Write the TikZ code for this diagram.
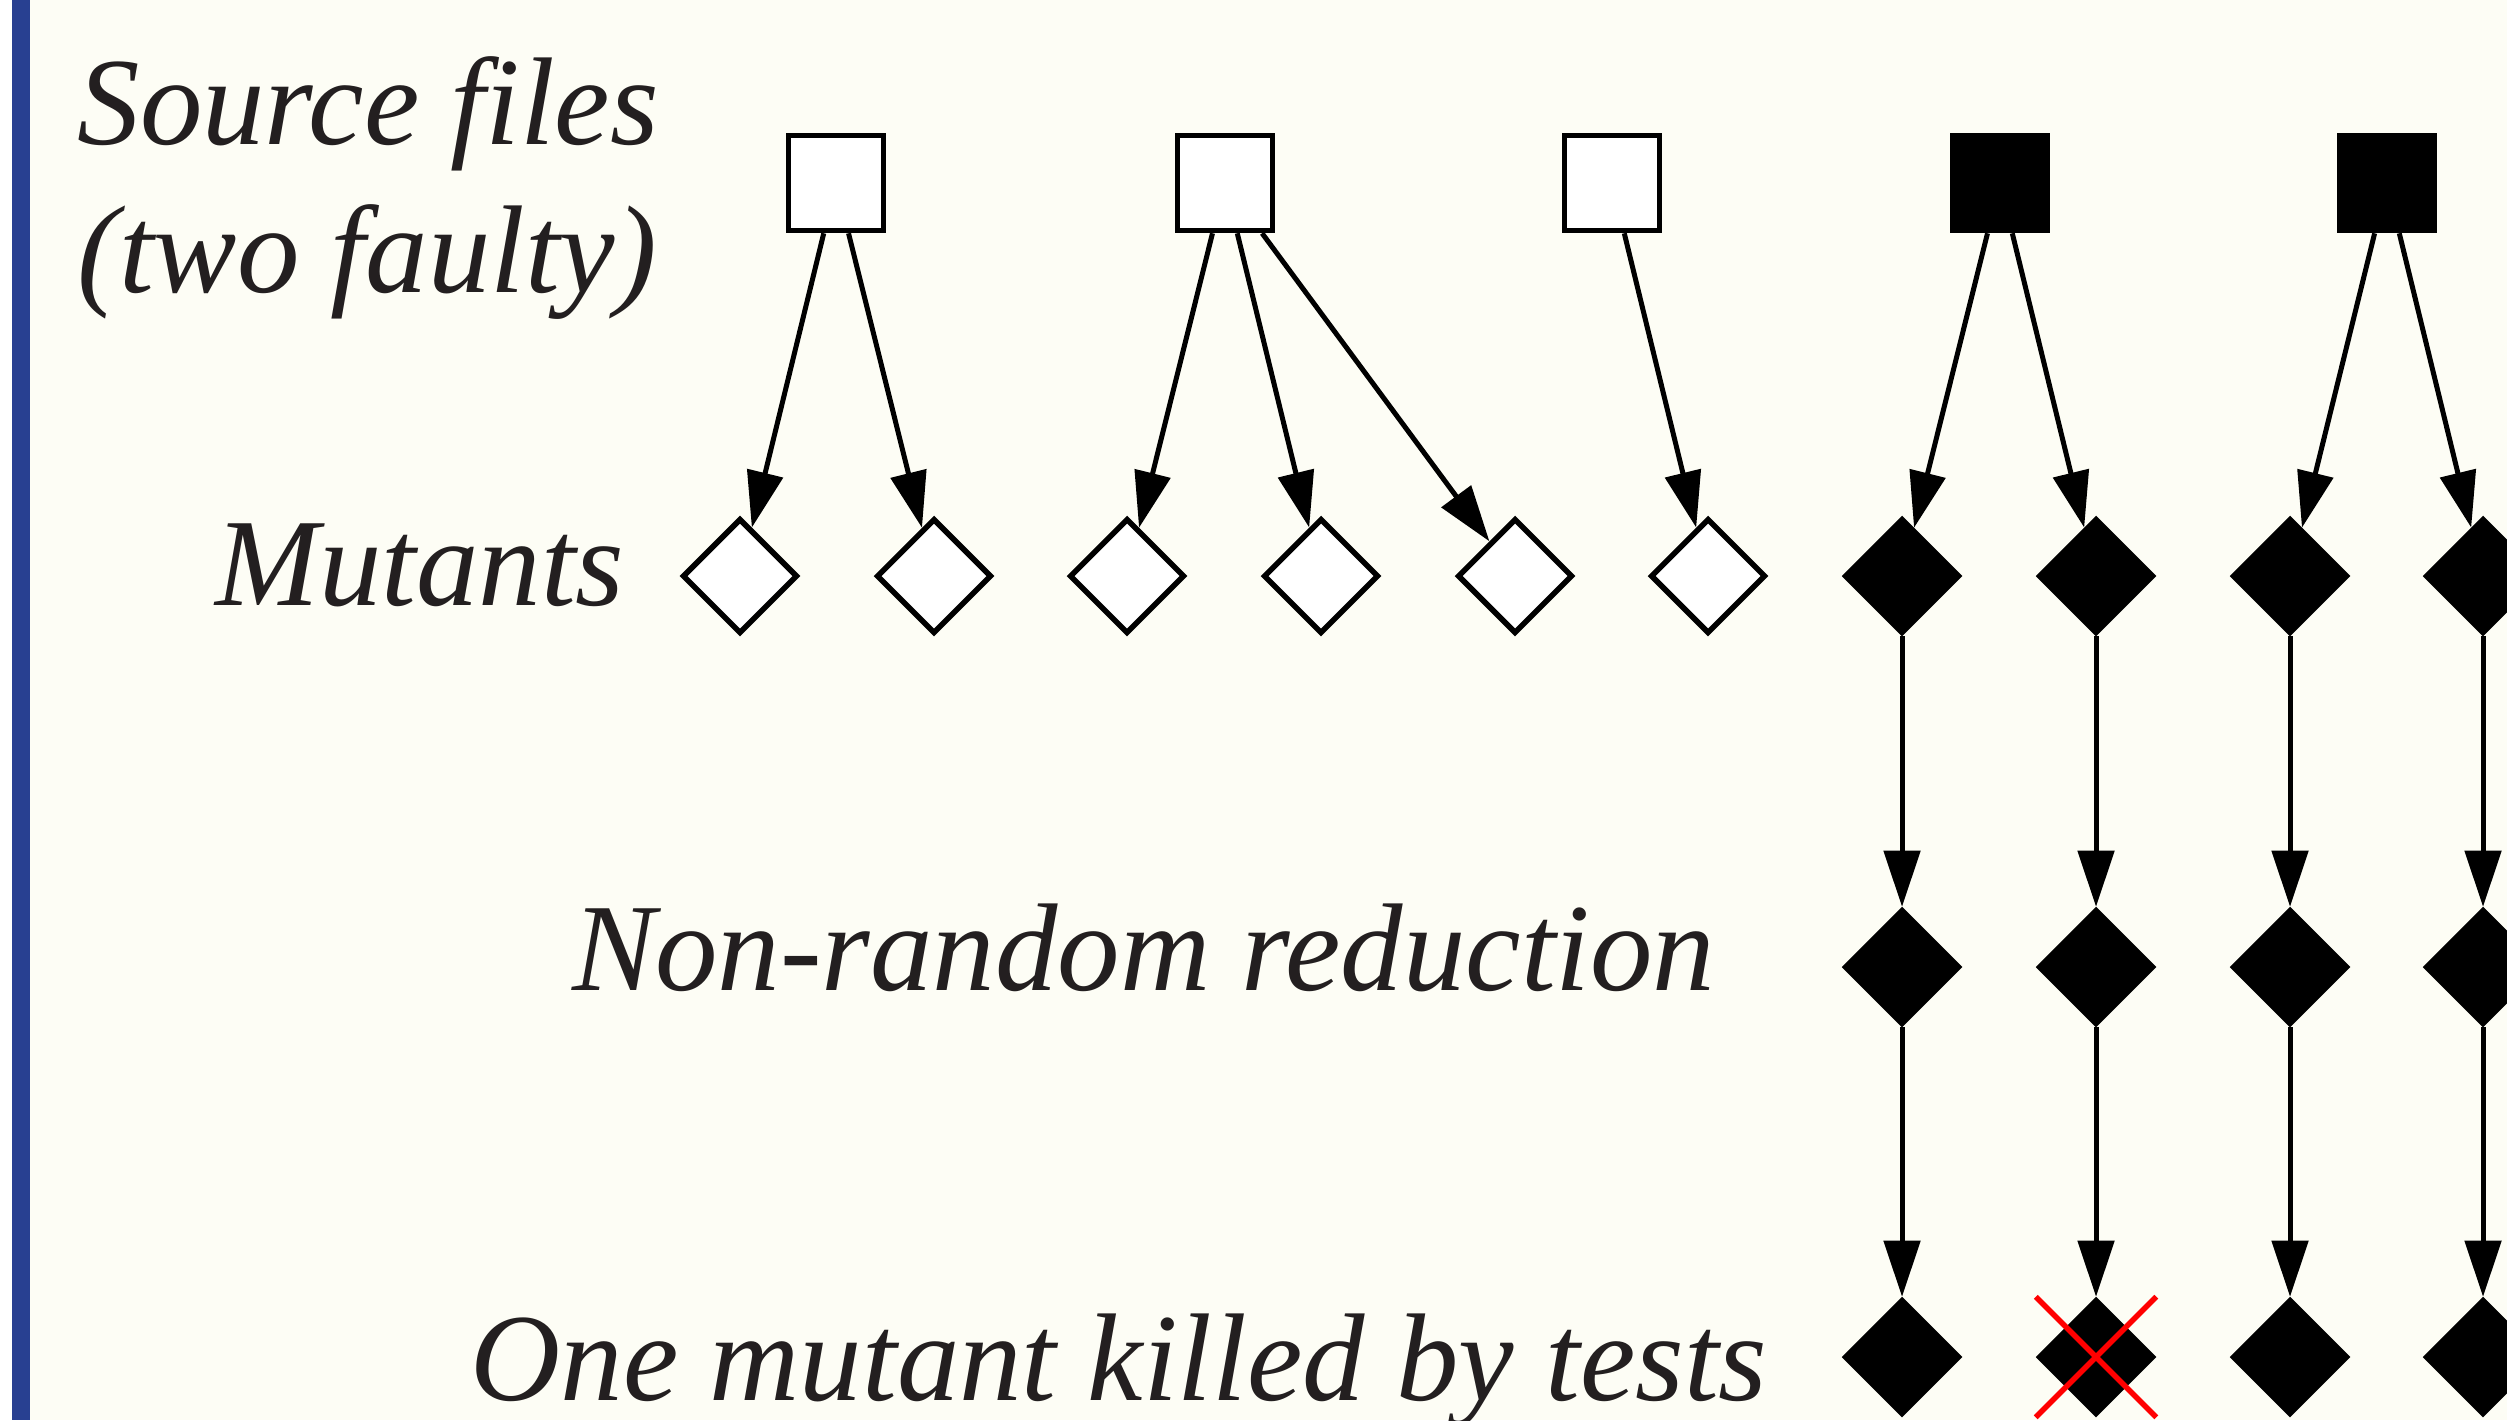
\documentclass[tikz,border=0pt]{standalone}
\usepackage{fontspec}
\setmainfont{Liberation Serif}
\usetikzlibrary{arrows.meta,shapes.geometric}

\definecolor{paper}{RGB}{253,253,245}
\definecolor{barblue}{RGB}{40,64,145}
\definecolor{ink}{RGB}{35,31,32}

\begin{document}
\begin{tikzpicture}[
  x=0.01cm, y=-0.01cm,
  file/.style={rectangle, draw=black, line width=0.055cm, fill=white,
               minimum size=0.95cm, inner sep=0pt},
  badfile/.style={file, fill=black},
  mutant/.style={diamond, draw=black, line width=0.055cm, fill=white,
                 minimum width=1.15cm, minimum height=1.15cm, inner sep=0pt},
  badmutant/.style={mutant, fill=black},
  arr/.style={-{Triangle[length=5.6mm, width=3.6mm]}, line width=0.05cm},
  lbl/.style={font=\fontsize{35.5}{42}\selectfont\itshape, text=ink, inner sep=0pt},
  cross/.style={draw=red, line width=0.055cm}
]
\useasboundingbox (0,0) rectangle (2507,1420);
\fill[paper] (30,0) rectangle (2507,1420);
\fill[barblue] (12,0) rectangle (30,1420);

% row labels
\node[lbl, anchor=west, align=left] (srclbl) at (77,188) {Source files\\(two faulty)};
\node[lbl, anchor=base east] (mutlbl) at (625,605) {Mutants};
\node[lbl, anchor=base east] (redlbl) at (1716,990) {Non-random reduction};
\node[lbl, anchor=base east] (killlbl) at (1768,1400) {One mutant killed by tests};

% source files
\node[file] (src1) at (836,183) {};
\node[file] (src2) at (1225,183) {};
\node[file] (src3) at (1612,183) {};
\node[badfile] (src4) at (2000,183) {};
\node[badfile] (src5) at (2387,183) {};

% mutants
\node[mutant] (mut1) at (740,576) {};
\node[mutant] (mut2) at (934,576) {};
\node[mutant] (mut3) at (1127,576) {};
\node[mutant] (mut4) at (1321,576) {};
\node[mutant] (mut5) at (1515,576) {};
\node[mutant] (mut6) at (1708,576) {};
\node[badmutant] (mut7) at (1902,576) {};
\node[badmutant] (mut8) at (2096,576) {};
\node[badmutant] (mut9) at (2290,576) {};
\node[badmutant] (mut10) at (2483,576) {};

% after reduction
\node[badmutant] (red7) at (1902,967) {};
\node[badmutant] (red8) at (2096,967) {};
\node[badmutant] (red9) at (2290,967) {};
\node[badmutant] (red10) at (2483,967) {};

% after tests
\node[badmutant] (kill7) at (1902,1357) {};
\node[badmutant] (kill8) at (2096,1357) {};
\node[badmutant] (kill9) at (2290,1357) {};
\node[badmutant] (kill10) at (2483,1357) {};

\draw[arr] (src1) -- (mut1);
\draw[arr] (src1) -- (mut2);
\draw[arr] (src2) -- (mut3);
\draw[arr] (src2) -- (mut4);
\draw[arr] (src2) -- (mut5);
\draw[arr] (src3) -- (mut6);
\draw[arr] (src4) -- (mut7);
\draw[arr] (src4) -- (mut8);
\draw[arr] (src5) -- (mut9);
\draw[arr] (src5) -- (mut10);

\draw[arr] (mut7) -- (red7);
\draw[arr] (mut8) -- (red8);
\draw[arr] (mut9) -- (red9);
\draw[arr] (mut10) -- (red10);

\draw[arr] (red7) -- (kill7);
\draw[arr] (red8) -- (kill8);
\draw[arr] (red9) -- (kill9);
\draw[arr] (red10) -- (kill10);

% killed mutant
\draw[cross] (kill8.west |- kill8.north) -- (kill8.east |- kill8.south);
\draw[cross] (kill8.west |- kill8.south) -- (kill8.east |- kill8.north);
\end{tikzpicture}
\end{document}
